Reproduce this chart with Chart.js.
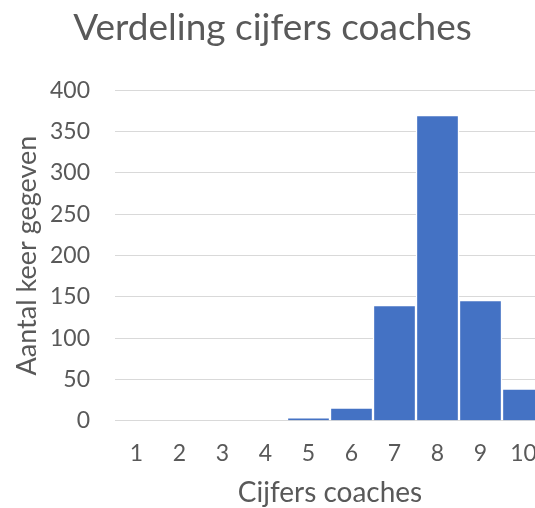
<!DOCTYPE html>
<html>
<head>
<meta charset="utf-8">
<script src="https://cdn.jsdelivr.net/npm/chart.js@4.4.0/dist/chart.umd.min.js"></script>
<style>
  html, body { margin: 0; padding: 0; background: #fff; overflow: hidden; }
  #wrap { width: 546px; height: 508px; }
</style>
</head>
<body>
<div id="wrap"><canvas id="chart"></canvas></div>
<script>
const categories = ["1", "2", "3", "4", "5", "6", "7", "8", "9", "10"];
const counts = [0, 0, 0, 0, 4, 16, 140, 370, 146, 39];
const yTicks = [0, 50, 100, 150, 200, 250, 300, 350, 400];

const textColor = "#595959";
const fontFamily = "Lato, 'Open Sans', sans-serif";

new Chart(document.getElementById("chart").getContext("2d"), {
  type: "bar",
  data: {
    labels: categories,
    datasets: [
      {
        data: counts,
        backgroundColor: "#4472C4",
        borderColor: "#ffffff",
        borderWidth: 1.5,
        barPercentage: 1,
        categoryPercentage: 1,
      },
    ],
  },
  options: {
    responsive: true,
    maintainAspectRatio: false,
    animation: false,
    layout: { padding: { left: 0, right: 1, top: 6, bottom: 0 } },
    plugins: {
      legend: { display: false },
      tooltip: { enabled: false },
      title: {
        display: true,
        text: "Verdeling cijfers coaches",
        color: textColor,
        font: { family: fontFamily, size: 37, weight: "normal" },
        padding: { top: 0, bottom: 40 },
      },
    },
    scales: {
      x: {
        afterFit: (axis) => {
          axis.height = 87.3;
          // labels fit inside their categories, no extra side padding
          axis.paddingLeft = 0;
          axis.paddingRight = 0;
        },
        grid: { display: false, drawTicks: false },
        border: { display: false },
        ticks: { color: textColor, font: { family: fontFamily, size: 23 }, padding: 19.5, maxRotation: 0 },
        title: {
          display: true,
          text: "Cijfers coaches",
          color: textColor,
          font: { family: fontFamily, size: 28 },
          padding: { top: 0, bottom: -2 },
        },
      },
      y: {
        min: 0,
        max: 400,
        afterBuildTicks: (axis) => {
          axis.ticks = yTicks.map((v) => ({ value: v }));
        },
        afterFit: (axis) => { axis.width = 115; },
        grid: { color: "#d9d9d9", lineWidth: 1, drawTicks: false },
        border: { display: false },
        ticks: { color: textColor, font: { family: fontFamily, size: 23 }, padding: 25 },
        title: {
          display: true,
          text: "Aantal keer gegeven",
          color: textColor,
          font: { family: fontFamily, size: 27 },
          padding: { top: 11, bottom: 0 },
        },
      },
    },
  },
});
</script>
</body>
</html>
